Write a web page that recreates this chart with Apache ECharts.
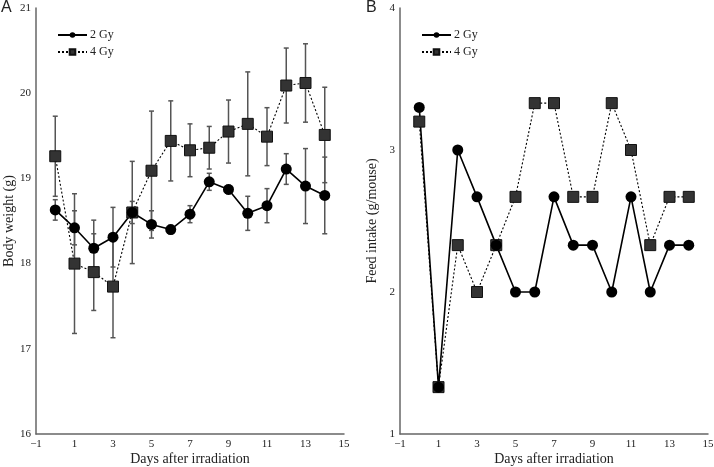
<!DOCTYPE html>
<html><head><meta charset="utf-8">
<script src="https://cdn.jsdelivr.net/npm/echarts@6/dist/echarts.min.js"></script>
<style>html,body{margin:0;padding:0;background:#fff}#c{width:714px;height:467px}</style>
</head><body><div id="c"></div>
<script>
const days = [0,1,2,3,4,5,6,7,8,9,10,11,12,13,14];
const bw2 = [18.63,18.42,18.18,18.31,18.60,18.46,18.40,18.58,18.96,18.87,18.59,18.68,19.11,18.91,18.80];
const bw2err = [0.12,0.20,0.33,0.35,0.13,0.16,0.05,0.10,0.10,0.05,0.20,0.20,0.18,0.44,0.45];
const bw4 = [19.26,18.00,17.90,17.73,18.60,19.09,19.44,19.33,19.36,19.55,19.64,19.49,20.09,20.12,19.51];
const bw4err = [0.47,0.82,0.45,0.60,0.60,0.70,0.47,0.31,0.25,0.37,0.61,0.34,0.44,0.46,0.56];
const fi2 = [3.3,1.33,3.0,2.67,2.33,2.0,2.0,2.67,2.33,2.33,2.0,2.67,2.0,2.33,2.33];
const fi4 = [3.2,1.33,2.33,2.0,2.33,2.67,3.33,3.33,2.67,2.67,3.33,3.0,2.33,2.67,2.67];
const xTicks = [-1,1,3,5,7,9,11,13,15];
const seriesNames = ['2 Gy','4 Gy'];

const serif = '"Liberation Serif", "Times New Roman", serif';
const axisCol = '#666';

function xAxis(gi){
  return {
    gridIndex: gi, type: 'value', min: -1, max: 15, interval: 1,
    axisLine: {show: true, onZero: false, lineStyle: {color: axisCol, width: 1.5}},
    axisTick: {show: false}, splitLine: {show: false},
    axisLabel: {color: '#222', fontFamily: serif, fontSize: 11, margin: 5,
      formatter: v => xTicks.indexOf(v) >= 0 ? (v < 0 ? '\u2212' + Math.abs(v) : String(v)) : ''},
    name: 'Days after irradiation', nameLocation: 'middle', nameGap: 18, nameMoveOverlap: false,
    nameTextStyle: {color: '#222', fontFamily: serif, fontSize: 14, verticalAlign: 'top'}
  };
}
function yAxis(gi, min, max, name, gap){
  return {
    gridIndex: gi, type: 'value', min: min, max: max, interval: 1,
    axisLine: {show: true, onZero: false, lineStyle: {color: axisCol, width: 1.5}},
    axisTick: {show: false}, splitLine: {show: false},
    axisLabel: {color: '#222', fontFamily: serif, fontSize: 11, margin: 5},
    name: name, nameLocation: 'middle', nameGap: gap, nameRotate: 90,
    nameTextStyle: {color: '#222', fontFamily: serif, fontSize: 14}
  };
}
function errSeries(gi, vals, errs){
  return {
    type: 'custom', xAxisIndex: gi, yAxisIndex: gi, z: 1, silent: true,
    data: days.map((d,i)=>[d, vals[i]-errs[i], vals[i]+errs[i]]),
    renderItem: function(params, api){
      const lo = api.coord([api.value(0), api.value(1)]);
      const hi = api.coord([api.value(0), api.value(2)]);
      const w = 2.5;
      const st = {stroke: '#555', lineWidth: 1.5};
      return {type: 'group', children: [
        {type: 'line', shape: {x1: lo[0], y1: lo[1], x2: hi[0], y2: hi[1]}, style: st},
        {type: 'line', shape: {x1: lo[0]-w, y1: lo[1], x2: lo[0]+w, y2: lo[1]}, style: st},
        {type: 'line', shape: {x1: hi[0]-w, y1: hi[1], x2: hi[0]+w, y2: hi[1]}, style: st}
      ]};
    }
  };
}
function lineSeries(gi, idx, vals){
  const is2 = idx === 0;
  return {
    name: seriesNames[idx], type: 'line', xAxisIndex: gi, yAxisIndex: gi, z: 3,
    data: days.map((d,i)=>[d, vals[i]]),
    symbol: is2 ? 'circle' : 'rect', symbolSize: 11,
    showAllSymbol: true,
    lineStyle: {color: '#000', width: is2 ? 1.6 : 1.1, type: is2 ? 'solid' : [2,2]},
    itemStyle: is2 ? {color: '#000'} : {color: '#333', borderColor: '#111', borderWidth: 1},
    emphasis: {disabled: true},
    animation: false
  };
}
function legend(left){
  return {
    left: left, top: 24, orient: 'vertical', itemGap: 5,
    itemWidth: 29, itemHeight: 7,
    data: seriesNames,
    textStyle: {fontFamily: serif, fontSize: 12, color: '#222', padding: [0,0,0,-2]},
    selectedMode: false
  };
}

const chart = echarts.init(document.getElementById('c'), null, {renderer: 'canvas'});
chart.setOption({
  animation: false,
  backgroundColor: '#fff',
  grid: [
    {left: 36, top: 8, width: 308, height: 426, outerBoundsMode: 'none', containLabel: false},
    {left: 400, top: 8, width: 308, height: 426, outerBoundsMode: 'none', containLabel: false}
  ],
  xAxis: [xAxis(0), xAxis(1)],
  yAxis: [yAxis(0, 16, 21, 'Body weight (g)', 20), yAxis(1, 1, 4, 'Feed intake (g/mouse)', 21)],
  legend: [legend(52), legend(416)],
  graphic: [
    {type: 'text', left: 1, top: 0, style: {text: 'A', font: '16px "Liberation Sans", Arial, sans-serif', fill: '#222'}},
    {type: 'text', left: 366, top: 0, style: {text: 'B', font: '16px "Liberation Sans", Arial, sans-serif', fill: '#222'}}
  ],
  series: [
    errSeries(0, bw4, bw4err),
    errSeries(0, bw2, bw2err),
    lineSeries(0, 1, bw4),
    lineSeries(0, 0, bw2),
    lineSeries(1, 1, fi4),
    lineSeries(1, 0, fi2)
  ]
});
</script></body></html>
